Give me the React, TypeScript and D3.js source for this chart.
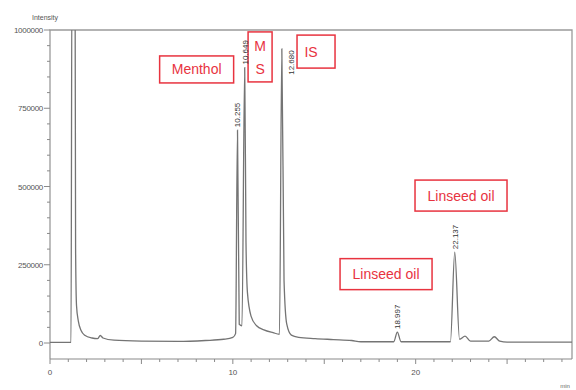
import React, { useRef, useEffect } from "react";
import * as d3 from "d3";

const W = 576;
const H = 390;

// chromatogram trace (min, intensity)
const traceTime = [
  0, 1.15, 1.2, 1.37, 1.4, 1.45, 1.55, 1.7, 1.9, 2.3, 2.6, 2.75, 2.9, 3.5,
  5, 7, 8.5, 9.5, 10.0, 10.15, 10.255, 10.35, 10.5, 10.649, 10.72, 10.8, 11.0,
  11.3, 11.7, 12.2, 12.55, 12.68, 12.8, 12.95, 13.2, 13.6, 14.5, 15.5, 16.5,
  17.0, 18.8, 18.997, 19.2, 21.9, 22.137, 22.4, 22.7, 23.0, 24.0, 24.3, 24.6,
  25.0, 28.55,
];
const traceIntensity = [
  2000, 2000, 1200000, 1200000, 300000, 120000, 70000, 40000, 25000, 16000,
  14000, 24000, 16000, 9000, 6000, 5000, 8000, 12000, 18000, 30000, 680000,
  60000, 55000, 880000, 320000, 160000, 85000, 55000, 42000, 33000, 28000,
  940000, 200000, 60000, 25000, 18000, 14000, 11000, 8000, 4000, 4000, 35000,
  4000, 4000, 290000, 12000, 22000, 6000, 6000, 20000, 6000, 3000, 3000,
];

const peakRT = ["10.255", "10.649", "12.680", "18.997", "22.137"];

const yTicks = [0, 250000, 500000, 750000, 1000000];
const xTickLabels = [0, 10, 20];

const annotations = ["Menthol", "M S", "IS", "Linseed oil", "Linseed oil"];
const annoTime = [8.02, 11.49, 14.55, 22.48, 18.38];
const annoIntensity = [874000, 914000, 931000, 471000, 220000];

const RED = "#e8333f";

export default function App() {
  const ref = useRef<SVGSVGElement>(null);

  useEffect(() => {
    const svg = d3.select(ref.current);
    svg.selectAll("*").remove();

    const x = d3.scaleLinear().domain([0, 28.55]).range([50, 572]);
    const y = d3.scaleLinear().domain([0, 1000000]).range([343, 30]);
    const axisY = 359;
    const grey = "#8a8a8a";
    const font = "Liberation Sans, Arial, sans-serif";

    svg
      .append("defs")
      .append("clipPath")
      .attr("id", "plot")
      .append("rect")
      .attr("x", 50)
      .attr("y", 30)
      .attr("width", 522)
      .attr("height", axisY - 30);

    // frame
    svg
      .append("path")
      .attr("d", `M50,${axisY}V30H572V${axisY}`)
      .attr("fill", "none")
      .attr("stroke", "#9a9a9a")
      .attr("stroke-width", 1.3);
    svg
      .append("line")
      .attr("x1", 50)
      .attr("x2", 572)
      .attr("y1", axisY)
      .attr("y2", axisY)
      .attr("stroke", grey)
      .attr("stroke-width", 1.2);

    // y ticks
    const g = svg.append("g");
    d3.range(0, 1000001, 50000).forEach((v) => {
      const major = v % 250000 === 0;
      g.append("line")
        .attr("x1", major ? 44 : 47)
        .attr("x2", 50)
        .attr("y1", y(v))
        .attr("y2", y(v))
        .attr("stroke", grey);
    });
    yTicks.forEach((v) => {
      g.append("text")
        .attr("x", 43)
        .attr("y", y(v) + 3)
        .attr("text-anchor", "end")
        .attr("font-size", 8)
        .attr("font-family", font)
        .attr("fill", "#555")
        .attr("letter-spacing", -0.3)
        .text(v);
    });
    g.append("text")
      .attr("x", 45)
      .attr("y", 20)
      .attr("text-anchor", "middle")
      .attr("font-size", 7)
      .attr("font-family", font)
      .attr("fill", "#555")
      .text("Intensity");

    // x ticks
    d3.range(0, 29, 1).forEach((t) => {
      const major = t % 5 === 0;
      g.append("line")
        .attr("x1", x(t))
        .attr("x2", x(t))
        .attr("y1", axisY)
        .attr("y2", axisY + (major ? 5 : 3))
        .attr("stroke", grey);
    });
    xTickLabels.forEach((t) => {
      g.append("text")
        .attr("x", x(t))
        .attr("y", axisY + 16)
        .attr("text-anchor", "middle")
        .attr("font-size", 8)
        .attr("font-family", font)
        .attr("fill", "#555")
        .text(t);
    });
    g.append("text")
      .attr("x", 565)
      .attr("y", 388)
      .attr("text-anchor", "middle")
      .attr("font-size", 6)
      .attr("font-family", font)
      .attr("fill", "#666")
      .text("min");

    // trace
    const pts = traceTime.map((t, i) => [t, traceIntensity[i]] as [number, number]);
    const line = d3
      .line<[number, number]>()
      .x((d) => x(d[0]))
      .y((d) => y(d[1]))
      .curve(d3.curveMonotoneX);
    svg
      .append("path")
      .datum(pts)
      .attr("clip-path", "url(#plot)")
      .attr("fill", "none")
      .attr("stroke", "#747474")
      .attr("stroke-width", 1.3)
      .attr("d", line);

    // red annotation boxes
    annotations.forEach((label, i) => {
      const cx = x(annoTime[i]);
      const cy = y(annoIntensity[i]);
      const a = svg.append("g").attr("transform", `translate(${cx},${cy})`);
      if (label === "M S") {
        a.append("rect")
          .attr("x", -12)
          .attr("y", -25)
          .attr("width", 24)
          .attr("height", 50)
          .attr("fill", "white")
          .attr("stroke", RED)
          .attr("stroke-width", 1.5);
        ["M", "S"].forEach((c, k) => {
          a.append("text")
            .attr("x", 0)
            .attr("y", k === 0 ? -6 : 17)
            .attr("text-anchor", "middle")
            .attr("font-size", 14)
            .attr("font-family", font)
            .attr("fill", RED)
            .text(c);
        });
        return;
      }
      const w = label === "IS" ? 38 : label === "Menthol" ? 74 : 92;
      const h = label === "IS" ? 33 : label === "Menthol" ? 27 : 31;
      a.append("rect")
        .attr("x", -w / 2)
        .attr("y", -h / 2)
        .attr("width", w)
        .attr("height", h)
        .attr("fill", "white")
        .attr("stroke", RED)
        .attr("stroke-width", 1.5);
      a.append("text")
        .attr("x", label === "IS" ? -5 : 0)
        .attr("y", 5)
        .attr("text-anchor", "middle")
        .attr("font-size", 14)
        .attr("font-family", font)
        .attr("fill", RED)
        .text(label);
    });

    // retention time labels
    peakRT.forEach((rt) => {
      const t = +rt;
      const i = traceTime.indexOf(t);
      const py = y(traceIntensity[i]);
      let lx = x(t);
      let ly = py - 3;
      if (ly - 32 < 30) {
        lx += 9;
        ly = py + 26;
      }
      svg
        .append("text")
        .attr("transform", `translate(${lx + 3},${ly}) rotate(-90)`)
        .attr("font-size", 8)
        .attr("font-family", font)
        .attr("fill", "#333")
        .text(rt);
    });
  }, []);

  return (
    <svg
      ref={ref}
      width={W}
      height={H}
      style={{ position: "absolute", left: 0, top: 0, background: "white" }}
    />
  );
}
